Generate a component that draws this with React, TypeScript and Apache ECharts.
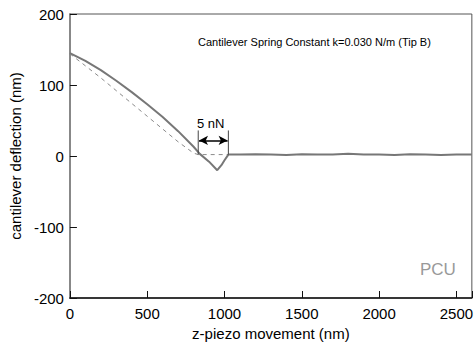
import React, { useEffect, useRef } from "react";
import * as echarts from "echarts";

const approachZ = [0, 100, 200, 300, 400, 500, 600, 700, 800, 840, 900, 953, 980, 1000, 1025, 1100, 1200, 1300, 1400, 1500, 1600, 1700, 1800, 1900, 2000, 2100, 2200, 2300, 2400, 2500, 2600];
const approachDefl = [145, 134, 121, 106, 90, 73, 55, 35, 13, 3, -8, -20, -13, -6, 2, 2, 2.5, 2, 1.5, 2.5, 2, 2, 3, 2, 2, 1.5, 2.5, 2, 1.5, 2, 2];

const fitZ = [0, 100, 200, 300, 400, 500, 600, 700, 800, 830, 1025];
const fitDefl = [144, 127, 110, 92, 74, 56, 38, 20, 4, 2, 2];

const bracketLeft = [[830, 2], [830, 36]];
const bracketRight = [[1025, 2], [1025, 36]];
const arrowSpan = [835, 1020];
const arrowLevel = 22;

const xTicks = [0, 500, 1000, 1500, 2000, 2500];
const yTicks = [-200, -100, 0, 100, 200];

const FONT = "Liberation Sans, Arial, sans-serif";

export default function App() {
  const ref = useRef<HTMLDivElement>(null);
  useEffect(() => {
    if (!ref.current) return;
    const chart = echarts.init(ref.current, undefined, { renderer: "svg" });
    chart.setOption({
      animation: false,
      backgroundColor: "#fff",
      grid: { left: 68, right: 2, top: 14, bottom: 47, show: true, borderColor: "#555", borderWidth: 1 },
      xAxis: {
        type: "value",
        min: 0,
        max: 2600,
        interval: 500,
        name: "z-piezo movement (nm)",
        nameLocation: "middle",
        nameGap: 28,
        nameTextStyle: { fontFamily: FONT, fontSize: 15, color: "#000" },
        axisLine: { onZero: false, lineStyle: { color: "#111", width: 1.5 } },
        axisTick: { inside: true, length: 7, lineStyle: { color: "#111" } },
        axisLabel: {
          fontFamily: FONT, fontSize: 15, color: "#000", margin: 8,
          formatter: (v: number) => (xTicks.includes(v) ? String(v) : ""),
        },
        splitLine: { show: false },
      },
      yAxis: {
        type: "value",
        min: -200,
        max: 200,
        interval: 100,
        name: "cantilever deflection (nm)",
        nameLocation: "middle",
        nameGap: 43,
        nameTextStyle: { fontFamily: FONT, fontSize: 15, color: "#000" },
        axisLine: { onZero: false, lineStyle: { color: "#888", width: 2 } },
        axisTick: { inside: true, length: 7, lineStyle: { color: "#111" } },
        axisLabel: {
          fontFamily: FONT, fontSize: 15, color: "#000", margin: 6,
          formatter: (v: number) => (yTicks.includes(v) ? String(v) : ""),
        },
        splitLine: { show: false },
      },
      series: [
        {
          type: "line",
          data: fitZ.map((z, i) => [z, fitDefl[i]]),
          showSymbol: false,
          lineStyle: { color: "#8a8a8a", width: 1, type: [4, 4] },
          z: 2,
        },
        {
          type: "line",
          data: approachZ.map((z, i) => [z, approachDefl[i]]),
          showSymbol: false,
          lineStyle: { color: "#777", width: 2 },
          z: 3,
        },
        {
          type: "line",
          data: bracketLeft,
          showSymbol: false,
          lineStyle: { color: "#444", width: 1 },
          z: 4,
        },
        {
          type: "line",
          data: bracketRight,
          showSymbol: false,
          lineStyle: { color: "#444", width: 1 },
          z: 4,
          markLine: {
            silent: true,
            symbol: ["arrow", "arrow"],
            symbolSize: [7, 9],
            label: { show: false },
            lineStyle: { color: "#000", width: 1.5, type: "solid" },
            data: [[{ coord: [arrowSpan[0], arrowLevel] }, { coord: [arrowSpan[1], arrowLevel] }]],
          },
        },
      ],
      graphic: [
        {
          type: "text",
          left: 198,
          top: 36,
          style: { text: "Cantilever Spring Constant k=0.030 N/m (Tip B)", fontFamily: FONT, fontSize: 11, fill: "#000" },
        },
        {
          type: "text",
          left: 197,
          top: 117,
          style: { text: "5 nN", fontFamily: FONT, fontSize: 13, fill: "#000" },
        },
        {
          type: "text",
          left: 420,
          top: 261,
          style: { text: "PCU", fontFamily: FONT, fontSize: 17, fill: "#999" },
        },
      ],
    });
    return () => chart.dispose();
  }, []);
  return <div ref={ref} style={{ position: "fixed", left: 0, top: 0, width: 476, height: 346 }} />;
}
